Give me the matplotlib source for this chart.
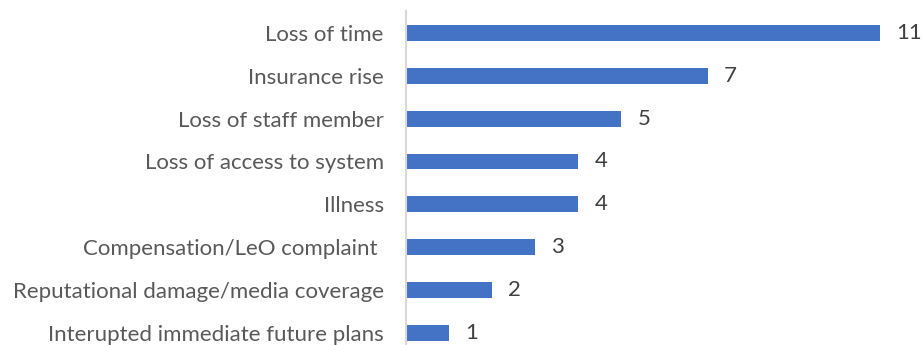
import matplotlib.pyplot as plt

categories = [
    "Loss of time",
    "Insurance rise",
    "Loss of staff member",
    "Loss of access to system",
    "Illness",
    "Compensation/LeO complaint ",
    "Reputational damage/media coverage",
    "Interupted immediate future plans",
]
counts = [11, 7, 5, 4, 4, 3, 2, 1]

plt.rcParams['font.family'] = ['Lato', 'DejaVu Sans']

fig = plt.figure(figsize=(9.22, 3.45), dpi=100)
ax = fig.add_axes([0.4403, -0.0275, 0.561, 0.9945])

y = list(range(len(categories)))
ax.barh(y, counts, height=0.37, color="#4472C4")
ax.set_ylim(len(categories) - 0.5, -0.5)
ax.set_xlim(0, 12)

ax.set_yticks(y)
ax.set_yticklabels(categories, fontsize=16, color="#595959")
ax.tick_params(axis="y", length=0, pad=16)
ax.set_xticks([])

for spine in ["top", "right", "bottom"]:
    ax.spines[spine].set_visible(False)
ax.spines["left"].set_color("#D9D9D9")
ax.spines["left"].set_linewidth(1.5)

# value labels to the right of each bar
for yi, v in zip(y, counts):
    ax.text(v + 0.37, yi, str(v), va="center", ha="left",
            fontsize=16, color="#404040")

fig.savefig("out.png", dpi=100)
